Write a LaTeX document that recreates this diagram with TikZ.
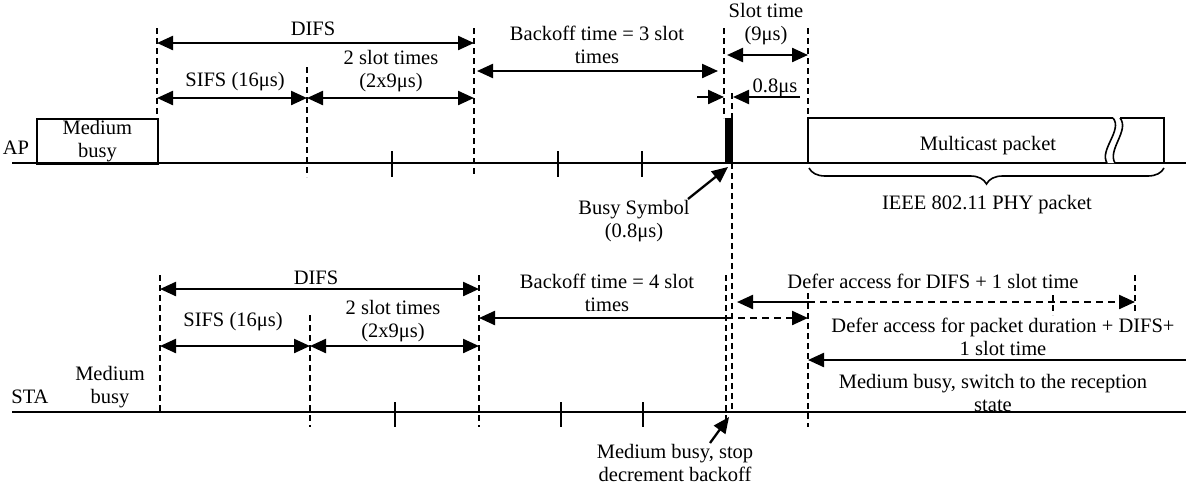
\documentclass[tikz,border=0pt]{standalone}
\usepackage{fontspec}
\setmainfont{Liberation Serif}
\usetikzlibrary{arrows.meta,decorations.pathreplacing}
\begin{document}
\begin{tikzpicture}[x=1pt,y=-1pt,
  lbl/.style={font=\fontsize{20.5}{23}\selectfont, inner sep=0pt, align=center},
  tline/.style={line width=1.8pt},
  tickmark/.style={line width=1.8pt},
  dsh/.style={line width=1.6pt, dash pattern=on 6pt off 4pt},
  tipA/.tip={Triangle[length=16pt,width=14pt]},
  dimboth/.style={line width=2.3pt, tipA-tipA},
  dimleft/.style={line width=2.3pt, tipA-},
  dimright/.style={line width=2.3pt, -tipA},
  dimdash/.style={line width=2.3pt, dash pattern=on 7pt off 5pt, -tipA},
  pointer/.style={line width=2.3pt, -tipA}]
\useasboundingbox (0,0) rectangle (1186,485);

% ---------- named x positions (top, AP) ----------
\coordinate (A0) at (157,0);
\coordinate (A1) at (307,0);
\coordinate (A2) at (392,0);
\coordinate (A3) at (474,0);
\coordinate (A4) at (558,0);
\coordinate (A5) at (642,0);
\coordinate (A6) at (724,0);
\coordinate (A7) at (732,0);
\coordinate (A8) at (808,0);
\coordinate (A9) at (1164,0);
\coordinate (AL) at (12,0);
\coordinate (AR) at (1186,0);
% named y levels (top)
\coordinate (yAline) at (0,163);
\coordinate (yAtop) at (0,28);
\coordinate (yAdifs) at (0,43);
\coordinate (yAslot) at (0,55);
\coordinate (yAback) at (0,71);
\coordinate (yAsifs) at (0,98);
\coordinate (yAmid) at (0,67);
\coordinate (yAbox) at (0,118);
\coordinate (yAtk1) at (0,151);
\coordinate (yAtk2) at (0,177);
\coordinate (yA08) at (0,97);
\coordinate (yA08s) at (0,93);

% ---------- named x positions (bottom, STA) ----------
\coordinate (B0) at (160,0);
\coordinate (B1) at (310,0);
\coordinate (B2) at (395,0);
\coordinate (B3) at (479,0);
\coordinate (B4) at (561,0);
\coordinate (B5) at (643,0);
\coordinate (B6) at (726,0);
\coordinate (B7) at (737,0);
\coordinate (B8) at (808,0);
\coordinate (B9) at (1135,0);
\coordinate (B10) at (1053,0);
% named y levels (bottom)
\coordinate (yBline) at (0,412);
\coordinate (yBtop) at (0,275);
\coordinate (yBdifs) at (0,289);
\coordinate (yBsifs) at (0,346);
\coordinate (yBmid) at (0,315);
\coordinate (yBback) at (0,318);
\coordinate (yBdefer) at (0,302);
\coordinate (yBpkt) at (0,360);
\coordinate (yBdtop) at (0,293);
\coordinate (yBtk1) at (0,402);
\coordinate (yBtk2) at (0,427);
\coordinate (yBbusyend) at (0,410);

% ================= AP =================
\draw[tline] (AL |- yAline) -- (AR |- yAline);
\node[lbl] (ap) at (16,148) {AP};
\node[lbl, draw, line width=1.8pt, minimum width=121pt, minimum height=45pt, anchor=north west] (mbA) at (36,118) {Medium\\busy};

% dashed verticals
\draw[dsh] (A0 |- yAtop) -- (A0 |- yAbox);
\draw[dsh] (A1 |- yAmid) -- (A1 |- yAtk2);
\draw[dsh] (A3 |- yAtop) -- (A3 |- yAtk2);
\draw[dsh] (A6 |- yAtop) -- (A6 |- yAbox);
\draw[dsh] (A7 |- yA08s) -- (A7 |- yBbusyend);
\draw[dsh] (A8 |- yAtop) -- (A8 |- yAbox);
% ticks
\foreach \t in {A2,A4,A5} \draw[tickmark] (\t |- yAtk1) -- (\t |- yAtk2);

% dimension arrows
\draw[dimboth] (A0 |- yAdifs) -- (A3 |- yAdifs);
\node[lbl] (difsA) at (313,29) {DIFS};
\draw[dimboth] (A0 |- yAsifs) -- (A1 |- yAsifs);
\node[lbl] (sifsA) at (235,82) {SIFS (16μs)};
\draw[dimboth] (A1 |- yAsifs) -- (A3 |- yAsifs);
\node[lbl] (slotsA) at (391,71) {2 slot times\\(2x9μs)};
\coordinate (A3b) at (477,0);
\coordinate (A6b) at (718,0);
\draw[dimboth] (A3b |- yAback) -- (A6b |- yAback);
\node[lbl] (backA) at (597,45) {Backoff time = 3 slot\\times};
\coordinate (A6c) at (727,0);
\draw[dimboth] (A6c |- yAslot) -- (A8 |- yAslot);
\node[lbl] (slotA) at (766,24) {Slot time\\(9μs)};
\coordinate (A08a) at (697,0);
\coordinate (A08b) at (800,0);
\coordinate (A7b) at (733,0);
\draw[dimright] (A08a |- yA08) -- (A6 |- yA08);
\draw[dimright] (A08b |- yA08) -- (A7b |- yA08);
\node[lbl] (o8A) at (775,88) {0.8μs};

% busy symbol
\fill (725,118) rectangle (733,163);
\node[lbl] (busysym) at (634,221) {Busy Symbol\\(0.8μs)};
\coordinate (bsTail) at (688,199);
\coordinate (bsTip) at (728,167);
\draw[pointer] (bsTail) -- (bsTip);

% multicast packet
\draw[line width=1.8pt] (808,163) -- (808,118) -- (1113,118);
\draw[line width=1.8pt] (1120,118) -- (1164,118) -- (1164,163);
\fill[white] (1113,118) .. controls (1123,130) and (1099,150) .. (1107,163) -- (1115,163) .. controls (1107,150) and (1130,130) .. (1120,118) -- cycle;
\draw[line width=1.6pt] (1113,118) .. controls (1123,130) and (1099,150) .. (1107,163);
\draw[line width=1.6pt] (1120,118) .. controls (1130,130) and (1107,150) .. (1115,163);
\node[lbl] (mcast) at (988,146) {Multicast packet};
\coordinate (brL) at (809,168);
\coordinate (brR) at (1164,168);
\draw[line width=1.6pt, decorate, decoration={brace, mirror, amplitude=16pt}] (brL) -- (brR);
\node[lbl] (ieee) at (987,205) {IEEE 802.11 PHY packet};

% ================= STA =================
\draw[tline] (AL |- yBline) -- (AR |- yBline);
\node[lbl] (sta) at (30,397) {STA};
\node[lbl] (mbB) at (110,387) {Medium\\busy};

\draw[dsh] (B0 |- yBtop) -- (B0 |- yBline);
\draw[dsh] (B1 |- yBmid) -- (B1 |- yBtk2);
\draw[dsh] (B3 |- yBtop) -- (B3 |- yBtk2);
\draw[dsh] (B6 |- yBtop) -- (B6 |- yBtk2);
\draw[dsh] (B8 |- yBdtop) -- (B8 |- yBtk2);
\draw[dsh] (B9 |- yBtop) -- (1135,312);
\draw[dsh] (1053,295) -- (1053,315);
\foreach \t in {B2,B4,B5} \draw[tickmark] (\t |- yBtk1) -- (\t |- yBtk2);

\draw[dimboth] (B0 |- yBdifs) -- (B3 |- yBdifs);
\node[lbl] (difsB) at (316,278) {DIFS};
\draw[dimboth] (B0 |- yBsifs) -- (B1 |- yBsifs);
\node[lbl] (sifsB) at (233,322) {SIFS (16μs)};
\draw[dimboth] (B1 |- yBsifs) -- (B3 |- yBsifs);
\node[lbl] (slotsB) at (393,321) {2 slot times\\(2x9μs)};

\draw[dimleft] (B3 |- yBback) -- (B6 |- yBback);
\draw[dimdash] (B6 |- yBback) -- (B8 |- yBback);
\node[lbl] (backB) at (607,293) {Backoff time = 4 slot\\times};

\draw[dimleft] (B7 |- yBdefer) -- (B8 |- yBdefer);
\draw[dimdash] (B8 |- yBdefer) -- (B9 |- yBdefer);
\node[lbl] (deferA) at (933,281) {Defer access for DIFS + 1 slot time};
\node[lbl] (deferB) at (1003,337) {Defer access for packet duration + DIFS+\\1 slot time};
\draw[dimleft] (B8 |- yBpkt) -- (AR |- yBpkt);
\node[lbl] (recv) at (993,393) {Medium busy, switch to the reception\\state};

\node[lbl] (stop) at (675,463) {Medium busy, stop\\decrement backoff};
\coordinate (stTail) at (710,443);
\coordinate (stTip) at (729,417);
\draw[pointer] (stTail) -- (stTip);
\end{tikzpicture}
\end{document}
